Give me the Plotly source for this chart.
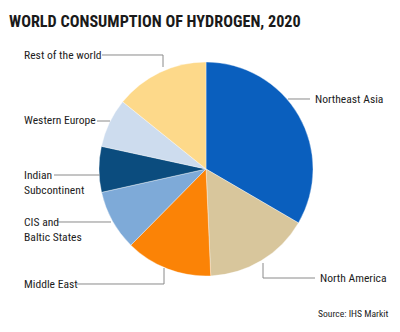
import plotly.graph_objects as go

W, H = 400, 332

regions = ["Northeast Asia", "North America", "Middle East", "CIS and Baltic States",
           "Indian Subcontinent", "Western Europe", "Rest of the world"]
shares = [33.4, 15.9, 13.1, 9.1, 6.9, 7.4, 14.2]
colors = ["#0a5fbe", "#d8c69c", "#fb8306", "#7eaad8", "#0b4c7e", "#cddcee", "#fdd98a"]

title_text = "WORLD CONSUMPTION OF HYDROGEN, 2020"
source_text = "Source: IHS Markit"

FONT = "Roboto Condensed, Roboto, sans-serif"

def px(x):
    return x / W

def py(y):
    return 1 - y / H

cx, cy, r = 206, 169, 107

fig = go.Figure(go.Pie(
    labels=regions, values=shares, sort=False, direction="clockwise", rotation=0,
    marker=dict(colors=colors, line=dict(color="rgba(255,255,255,0.6)", width=0.6)),
    textinfo="none", hoverinfo="label+percent", showlegend=False,
    domain=dict(x=[px(cx - r), px(cx + r)], y=[py(cy + r), py(cy - r)]),
))

# label placements: (text, x, y, leader polyline points)
labels = [
    ("Rest of the world", 22, 55, [(102, 55), (163, 55), (163, 67)]),
    ("Western Europe", 22, 120, [(97, 121), (110, 121)]),
    ("Indian<br>Subcontinent", 22, 182, [(54, 175), (100, 175)]),
    ("CIS and<br>Baltic States", 22, 229, [(57, 222), (111, 222)]),
    ("Middle East", 22, 284, [(77, 284), (164, 284), (164, 268)]),
    ("Northeast Asia", 313, 99, [(288, 99), (310, 99)]),
    ("North America", 318, 278, [(263, 263), (263, 278), (315, 278)]),
]

annotations = []
shapes = []
for text, x, y, pts in labels:
    annotations.append(dict(
        text=text, x=px(x), y=py(y), xref="paper", yref="paper",
        xanchor="left", yanchor="middle", showarrow=False, align="left",
        font=dict(family=FONT, size=11.6, color="#1d1d1d"),
    ))
    path = "M " + " L ".join(f"{px(a):.5f},{py(b):.5f}" for a, b in pts)
    shapes.append(dict(type="path", path=path, xref="paper", yref="paper",
                       line=dict(color="#8a8a8a", width=1)))

annotations.append(dict(
    text="<b>" + title_text + "</b>", x=px(7), y=py(21), xref="paper", yref="paper",
    xanchor="left", yanchor="middle", showarrow=False,
    font=dict(family=FONT, size=16.2, color="#1a1a1a"),
))
annotations.append(dict(
    text=source_text, x=px(390), y=py(313), xref="paper", yref="paper",
    xanchor="right", yanchor="middle", showarrow=False,
    font=dict(family=FONT, size=9.6, color="#1d1d1d"),
))

fig.update_layout(
    width=W, height=H, margin=dict(l=0, r=0, t=0, b=0),
    paper_bgcolor="white", plot_bgcolor="white",
    annotations=annotations, shapes=shapes,
)

fig.write_html("out.html")
